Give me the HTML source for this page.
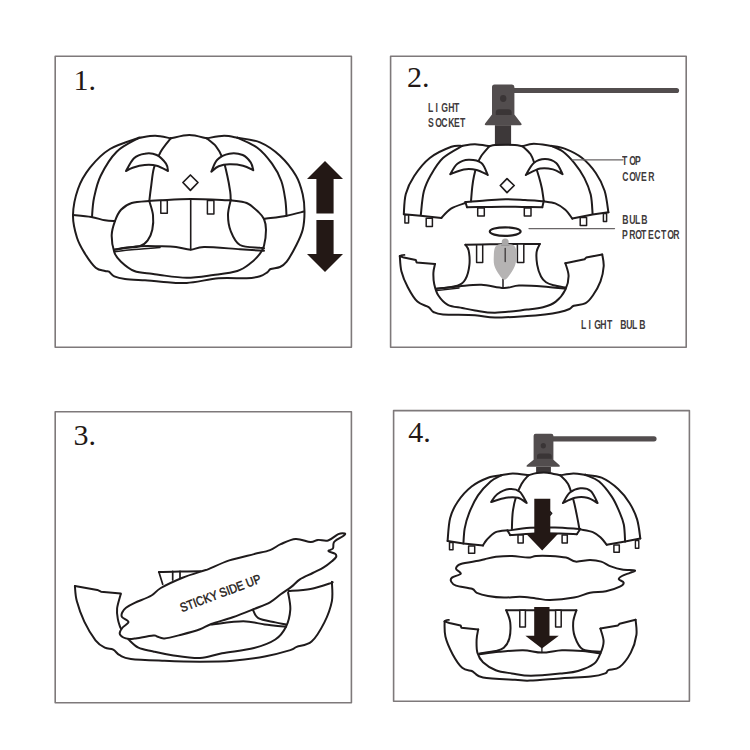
<!DOCTYPE html>
<html><head><meta charset="utf-8"><style>
html,body{margin:0;padding:0;background:#fff;width:750px;height:750px;overflow:hidden;position:relative}
svg{position:absolute;left:0;top:0}
.num{position:absolute;font-family:"Liberation Serif",serif;font-size:30px;color:#231815;line-height:1;white-space:nowrap}
.lbl2{position:absolute;font-family:"Liberation Sans",sans-serif;line-height:1;white-space:nowrap;-webkit-text-stroke:0px}
.sticky{position:absolute;font-family:"Liberation Sans",sans-serif;font-size:12.6px;color:#231815;line-height:1;white-space:nowrap;transform-origin:0 100%;transform:rotate(-20.5deg) scaleX(.86);font-weight:normal;-webkit-text-stroke:0.45px #231815}
.lbl{position:absolute;font-family:"Liberation Sans",sans-serif;font-size:12px;color:#3a3536;line-height:1;white-space:nowrap;transform-origin:0 0}
</style></head><body>
<svg width="750" height="750" viewBox="0 0 750 750" stroke-linejoin="round" stroke-linecap="round">
<rect x="55.2" y="56.2" width="296.2" height="291" fill="none" stroke="#7e797a" stroke-width="1.6"/>
<rect x="390.6" y="56.2" width="295.6" height="291" fill="none" stroke="#7e797a" stroke-width="1.6"/>
<rect x="55.2" y="411.8" width="296.2" height="291" fill="none" stroke="#7e797a" stroke-width="1.6"/>
<rect x="393.6" y="410.6" width="295.8" height="290.6" fill="none" stroke="#7e797a" stroke-width="1.6"/>
<path d="M325 161L343 179L333.6 179L333.6 213.6L316.4 213.6L316.4 179L307 179Z" fill="#231815"/>
<path d="M316.4 220L333.6 220L333.6 254L343 254L325 272L307 254L316.4 254Z" fill="#231815"/>
<path d="M139.3 137.7C134.4 139.6 118.2 144 110 149C101.8 154 95.3 161 90 167.7C84.7 174.4 80.8 181.1 78 189C75.2 196.9 73.2 206.9 73 215C72.8 223.1 75 231.2 77 237.7C79 244.1 81.9 248.7 85 253.7C88.1 258.7 92.4 264.8 95.7 267.7C99 270.6 102.8 270.3 105 271C107.2 271.7 107.5 270.8 109 271.7C110.5 272.6 111.6 275.1 114.3 276.3C117 277.5 119.9 278.3 125 279C130.1 279.7 139 279.9 145 280.3C151 280.8 154.1 281.2 161 281.7C167.9 282.1 177.1 283.6 186.7 283C196.3 282.4 208.7 279.1 218.7 278.3C228.7 277.5 239.8 278.6 246.7 278.3C253.6 278 256.6 277.3 260 276.3C263.4 275.3 265.5 273.5 267.3 272.3C269.1 271.1 268.6 269.9 270.7 269C272.8 268.1 277.3 268.2 280 267C282.7 265.8 284 265.2 286.7 261.7C289.4 258.1 293.3 251 296 245.7C298.7 240.4 301.3 235.4 302.7 229.7C304.1 224 304.5 217.6 304.5 211.7C304.5 205.8 304.1 200.3 302.7 194.3C301.3 188.3 299.8 182.1 296 175.7C292.2 169.3 286 161.3 280 155.7C274 150.1 267.1 145.3 260 142.3C252.9 139.3 241.1 138.5 237.3 137.7" fill="none" stroke="#1f1b1c" stroke-width="2.0"/>
<path d="M139.3 137.7C142 137.4 150.1 135.6 155.3 135.7C160.5 135.8 168.1 137.9 170.7 138.3" fill="none" stroke="#1f1b1c" stroke-width="2.0"/>
<path d="M170.7 138.3C173.8 137.8 183.3 135 189.3 135C195.3 135 203.8 137.8 206.7 138.3" fill="none" stroke="#1f1b1c" stroke-width="2.0"/>
<path d="M206.7 138.3C209.6 137.9 218.9 135.8 224 135.7C229.1 135.6 235.1 137.4 237.3 137.7" fill="none" stroke="#1f1b1c" stroke-width="2.0"/>
<path d="M139.3 137.7C135.5 140 123.1 145.4 116.7 151.7C110.3 158 104.5 168 100.7 175.7C96.9 183.4 95.5 191.1 94 198C92.5 204.9 92.3 213.8 92 217" fill="none" stroke="#1f1b1c" stroke-width="2.0"/>
<path d="M170.7 138.3C169 140.5 163.5 146.8 160.7 151.7C157.9 156.6 155.6 162.1 154 167.7C152.4 173.2 152.1 179.4 151.3 185C150.5 190.6 149.6 198.3 149.3 201" fill="none" stroke="#1f1b1c" stroke-width="2.0"/>
<path d="M206.7 138.3C208.2 139.6 213.3 143 216 146.3C218.7 149.6 220.8 153.4 222.7 158.3C224.6 163.2 226.1 170.1 227.3 175.7C228.6 181.3 229.6 187.6 230.2 191.7C230.8 195.8 230.6 198.9 230.7 200.3" fill="none" stroke="#1f1b1c" stroke-width="2.0"/>
<path d="M237.3 137.7C240.6 139.4 251.5 143.4 257.3 147.7C263.1 152 268 158.1 272 163.7C276 169.2 279.1 175 281.3 181C283.5 187 284.4 193.9 285.3 199.7C286.2 205.5 286.3 213 286.5 215.7" fill="none" stroke="#1f1b1c" stroke-width="2.0"/>
<path d="M73 215C76 215.3 86 216.1 91.3 217C96.6 217.9 101 219.6 105 220.3C109 221 113.3 220.9 115 221" fill="none" stroke="#1f1b1c" stroke-width="2.0"/>
<path d="M264 219C267.8 218.4 280 216.9 286.7 215.7C293.4 214.4 301.1 212.2 304 211.5" fill="none" stroke="#1f1b1c" stroke-width="2.0"/>
<path d="M149.3 201C151.1 200.9 153.1 200.6 160 200.3C166.9 200 178.9 199 190.7 199C202.5 199 224 200.1 230.7 200.3" fill="none" stroke="#1f1b1c" stroke-width="2.0"/>
<path d="M149.3 201C146.4 201.3 136.4 201.6 131.7 203C127 204.4 123.8 206.7 121 209.7C118.2 212.7 116.5 216.8 115 221C113.5 225.2 111.8 229.8 111.7 235C111.6 240.2 112.8 247.9 114.3 252.3C115.8 256.8 117.7 258.6 121 261.7C124.3 264.8 129.2 269 134.3 271C139.4 273 147.4 273 151.7 273.7C156 274.4 154.2 274.3 160 275C165.8 275.7 177.8 277.7 186.7 277.7C195.6 277.7 204.9 276.1 213.3 275C221.7 273.9 231.1 273 237.3 271C243.5 269 246.9 265.9 250.7 263C254.5 260.1 257.8 256.6 260 253.7C262.2 250.8 263 249.7 264 245.7C265 241.7 266 234.1 266 229.7C266 225.2 265.2 221.9 264 219C262.8 216.1 261.6 215 258.7 212.3C255.8 209.6 251.4 205 246.7 203C242 201 233.4 200.8 230.7 200.3" fill="none" stroke="#1f1b1c" stroke-width="2.0"/>
<path d="M149.3 201C149.9 203.3 152.5 210.2 153 215C153.5 219.8 153.2 225.5 152.3 229.7C151.4 233.9 149.8 237.5 147.7 240.3C145.6 243.1 143.5 245.1 139.7 246.3C135.9 247.5 129.2 247.1 125 247.7C120.8 248.3 116.1 249.4 114.3 249.7" fill="none" stroke="#1f1b1c" stroke-width="2.0"/>
<path d="M230.7 200.3C230.2 202.8 228 209.9 228 215C228 220.1 228.7 226 230.7 231C232.7 236 235.1 242.2 240 245C244.9 247.8 256 247.1 260 247.7C264 248.2 263.3 248.2 264 248.3" fill="none" stroke="#1f1b1c" stroke-width="2.0"/>
<path d="M114.3 249.7C118.5 249.1 132.1 246.9 139.7 246.3C147.3 245.7 153.9 246.2 160 246.3C166.1 246.4 170.9 246.4 176 247C181.1 247.6 186 249.7 190.7 249.7C195.4 249.7 195.8 247.1 204 247C212.2 246.9 230 248.6 240 249.2C250 249.8 260 250.5 264 250.8" fill="none" stroke="#1f1b1c" stroke-width="2.0"/>
<path d="M115 251.7C117.8 251.4 124.2 250.4 131.7 249.7C139.2 249 155.3 247.9 160 247.5" fill="none" stroke="#1f1b1c" stroke-width="1.5"/>
<path d="M190.7 199L190.7 249.7" fill="none" stroke="#1f1b1c" stroke-width="1.6"/>
<rect x="160.8" y="200.5" width="6.5" height="12.7" fill="#fff" stroke="#1f1b1c" stroke-width="1.5"/>
<rect x="207.4" y="200.5" width="6.5" height="13.5" fill="#fff" stroke="#1f1b1c" stroke-width="1.5"/>
<path d="M190.4 175L198 182.5L190.4 190.3L182.9 182.5Z" fill="none" stroke="#1f1b1c" stroke-width="1.7"/>
<path d="M126 171C127.3 168.9 130.9 161.2 134 158.3C137.1 155.4 140.9 154.2 144.7 153.7C148.5 153.1 153.1 153.3 156.7 155C160.2 156.7 164.1 161 166 163.7C167.9 166.4 167.7 169.8 168 171C166.1 170.1 160.6 166.7 156.7 165.7C152.8 164.7 148.7 164.7 144.7 165C140.7 165.3 135.8 166.7 132.7 167.7C129.6 168.7 127.1 170.4 126 171Z" fill="#fff" stroke="#1f1b1c" stroke-width="2.0"/>
<path d="M211.3 171.7C212.3 169.7 214.3 162.7 217.3 159.7C220.3 156.7 225.1 154.5 229.3 153.7C233.5 152.9 239.1 153.6 242.7 155C246.3 156.4 248.9 159.8 250.7 162.3C252.5 164.9 252.9 169 253.3 170.3C251.6 169.5 247 166.7 243 165.7C239 164.7 233.4 164.2 229.3 164.3C225.2 164.4 221.7 165.1 218.7 166.3C215.7 167.5 212.5 170.8 211.3 171.7Z" fill="#fff" stroke="#1f1b1c" stroke-width="2.0"/>
<path d="M512 87.9H676.5a2.6 2.6 0 0 1 0 5.2H512Z" fill="#524d4e"/>
<path d="M492 87Q492 84.5 494.5 84.5H512Q514.4 84.5 514.4 87V114.4L521.3 123.4Q522.3 125.2 520.3 125.2H486.1Q484.1 125.2 485.1 123.4L492 114.4Z" fill="#524d4e"/>
<ellipse cx="503.2" cy="98.5" rx="3.2" ry="3.4" fill="#3a3536"/>
<path d="M495.8 114.9V112.3Q495.8 109.3 499 109.3H508.4Q511.6 109.3 511.6 112.3V114.9Z" fill="#3a3536"/>
<rect x="494.9" y="125.2" width="16.2" height="20" fill="#3d3839"/>
<path d="M462.2 145.9C460.4 146.1 456.8 144.8 451.4 146.8C446 148.8 436 153.1 429.8 158C423.6 162.9 418.2 170 414.2 176C410.2 182 407.5 187.6 405.8 194C404.1 200.4 404.1 210.8 403.8 214.2" fill="none" stroke="#1f1b1c" stroke-width="2.0"/>
<path d="M403.8 214.2L420.6 215.8L441.4 217.9" fill="none" stroke="#1f1b1c" stroke-width="2.0"/>
<path d="M441.4 217.9C443 216.3 447 211.1 451 208.6C455 206.1 463 203.9 465.4 203" fill="none" stroke="#1f1b1c" stroke-width="2.0"/>
<path d="M462.2 145.9C459 147.9 448.2 153.2 443 158C437.8 162.8 434.2 169.2 431 174.8C427.8 180.4 425.5 184.9 423.8 191.6C422.1 198.3 421.3 211.1 420.8 215" fill="none" stroke="#1f1b1c" stroke-width="2.0"/>
<path d="M462.2 145.9C464.3 145.6 470.5 144.2 475 144.3C479.5 144.4 487 145.9 489.4 146.2" fill="none" stroke="#1f1b1c" stroke-width="2.0"/>
<path d="M489.4 146.2C490.3 146 492.3 145.2 495 145C497.7 144.8 502.4 144.7 505.7 144.7C509 144.7 512.2 144.8 515 145C517.8 145.2 521.3 146 522.6 146.2" fill="none" stroke="#1f1b1c" stroke-width="2.0"/>
<path d="M489.4 146.2C488.1 147.8 483.5 152.7 481.4 155.8C479.3 158.9 478.2 161.6 477 165C475.8 168.4 474.8 172.4 474 176C473.2 179.6 472.8 182.5 472.3 186.7C471.8 190.9 471.2 198.9 471 201.3" fill="none" stroke="#1f1b1c" stroke-width="2.0"/>
<path d="M522.6 146.2C523.9 147.5 528.5 151.1 530.6 154.2C532.7 157.3 533.6 161.2 535 165C536.4 168.8 537.9 173.2 539 177C540.1 180.8 541 184.1 541.8 188C542.6 191.9 543.4 198.5 543.7 200.6" fill="none" stroke="#1f1b1c" stroke-width="2.0"/>
<path d="M522.6 146.2C524.5 145.8 529 143.9 533.8 143.8C538.6 143.8 548.5 145.6 551.4 145.9" fill="none" stroke="#1f1b1c" stroke-width="2.0"/>
<path d="M551.4 145.9C553.3 146.8 559 148.7 562.8 151.5C566.6 154.3 570.6 158.5 574.2 162.9C577.8 167.3 581.6 172.8 584.4 178.1C587.1 183.4 589.3 188.6 590.7 194.6C592.1 200.6 592.3 210.8 592.6 214" fill="none" stroke="#1f1b1c" stroke-width="2.0"/>
<path d="M551.4 145.9C553.7 146.4 560.2 146.9 565.3 148.9C570.4 150.9 576.7 153.8 581.8 157.8C586.9 161.8 592 167.5 595.8 173C599.6 178.5 602.5 184.2 604.6 190.8C606.7 197.4 607.8 208.7 608.4 212.3" fill="none" stroke="#1f1b1c" stroke-width="2.0"/>
<path d="M608.4 212.3L592.6 214.5L572.3 218.6" fill="none" stroke="#1f1b1c" stroke-width="2.0"/>
<path d="M572.3 218.6C571.1 217.1 568.1 212.3 565.3 209.8C562.4 207.3 558.8 204.8 555.2 203.4C551.6 202 545.6 201.7 543.7 201.3" fill="none" stroke="#1f1b1c" stroke-width="2.0"/>
<path d="M465.4 202C468.7 201.8 478.3 200.9 485 200.5C491.7 200.1 499 199.4 505.7 199.3C512.4 199.2 518.7 199.7 525 200C531.3 200.3 540.6 201.1 543.7 201.3" fill="none" stroke="#1f1b1c" stroke-width="2.0"/>
<path d="M467 207.3C470 207.2 479 207.1 485 207C491 206.9 496.8 206.7 503 206.7C509.2 206.7 515.5 206.9 522 207C528.5 207.1 538.9 207.2 542.3 207.3" fill="none" stroke="#1f1b1c" stroke-width="2.0"/>
<path d="M465.4 202L467 207.3" fill="none" stroke="#1f1b1c" stroke-width="2.0"/>
<path d="M543.7 201.3L542.3 207.3" fill="none" stroke="#1f1b1c" stroke-width="2.0"/>
<rect x="404.9" y="215" width="3.7" height="8" fill="#fff" stroke="#1f1b1c" stroke-width="1.5"/>
<rect x="426.2" y="218.2" width="6.2" height="8.3" fill="#fff" stroke="#1f1b1c" stroke-width="1.5"/>
<rect x="477.7" y="208" width="6.6" height="8" fill="#fff" stroke="#1f1b1c" stroke-width="1.5"/>
<rect x="524.3" y="208" width="6.7" height="8" fill="#fff" stroke="#1f1b1c" stroke-width="1.5"/>
<rect x="580.2" y="217.4" width="6.4" height="8" fill="#fff" stroke="#1f1b1c" stroke-width="1.5"/>
<rect x="603.4" y="213.4" width="3.2" height="8" fill="#fff" stroke="#1f1b1c" stroke-width="1.5"/>
<path d="M507 178.7L514.2 185.5L507 192.6L500.3 185.5Z" fill="none" stroke="#1f1b1c" stroke-width="1.7"/>
<path d="M450.2 174.2C451.4 172.5 454.3 166.2 457.4 163.8C460.5 161.4 464.6 159.9 468.6 159.8C472.6 159.7 478.2 160.5 481.4 163C484.6 165.5 486.7 173 487.8 175C485.9 174.2 480.6 170.8 476.6 169.9C472.6 169 468.2 168.7 463.8 169.4C459.4 170.1 452.5 173.4 450.2 174.2Z" fill="#fff" stroke="#1f1b1c" stroke-width="2.0"/>
<path d="M525.8 175C527.1 173 530.6 165.7 533.8 163C537 160.3 541.3 159 545 159C548.7 159 553.3 160.5 556.2 163C559.1 165.5 561.5 172.3 562.6 174.2C561 173.4 556.7 170.3 553 169.4C549.3 168.5 544.7 167.7 540.2 168.6C535.7 169.5 528.2 173.9 525.8 175Z" fill="#fff" stroke="#1f1b1c" stroke-width="2.0"/>
<ellipse cx="505.2" cy="231.6" rx="15.4" ry="4.3" fill="none" stroke="#1f1b1c" stroke-width="2.2"/>
<path d="M399.8 256C400.1 258.5 400.1 266 401.4 271.2C402.7 276.4 405.1 282.1 407.8 287.2C410.5 292.3 413.9 298.3 417.4 301.6C420.9 304.9 425.9 305.5 428.6 307.2C431.3 308.9 431 310.8 433.4 312C435.8 313.2 436.1 313.9 443 314.4C449.9 314.9 466.3 314.7 475 315.2C483.7 315.7 486.3 317.5 495 317.6C503.7 317.7 518.7 316.5 527 316C535.3 315.5 539.7 315 545 314.4C550.3 313.8 554.8 313.1 558.9 312.2C563 311.3 567 310.1 569.5 309C572 307.9 571.1 306.8 573.8 305.8C576.5 304.8 582.4 305 585.6 303.2C588.8 301.4 590.5 298.8 593 295.2C595.5 291.6 598.7 286.1 600.5 281.3C602.3 276.5 603.4 270.8 603.7 266.3C604 261.8 602.5 256.4 602.2 254.4" fill="none" stroke="#1f1b1c" stroke-width="2.0"/>
<path d="M399.8 256L403.8 257.6L415.8 260L416.6 262.4L435 264" fill="none" stroke="#1f1b1c" stroke-width="2.0"/>
<path d="M435 264C434.7 265.5 433.5 269.5 433.4 272.8C433.3 276.1 433.4 280.3 434.2 284C435 287.7 435.9 291.7 438.2 295.2C440.5 298.7 443.8 302.7 447.8 304.8C451.8 306.9 457.7 307.1 462.2 308C466.7 308.9 469.5 309.6 475 310.4C480.5 311.2 486.3 312.9 495 312.8C503.7 312.7 519 310.5 527 309.6C535 308.7 538.2 308.5 543 307.2C547.8 305.9 552.1 304.5 555.8 301.6C559.5 298.7 563.3 293.9 565.4 289.6C567.5 285.3 568.6 280.4 568.6 276C568.6 271.6 565.9 265.3 565.4 263.2" fill="none" stroke="#1f1b1c" stroke-width="2.0"/>
<path d="M565.4 263.2L584.6 259.2L586.2 257.6L602.2 254.4" fill="none" stroke="#1f1b1c" stroke-width="2.0"/>
<path d="M465.4 244.8C469.5 244.7 481.7 244.4 490 244.3C498.3 244.2 506.7 244.1 515 244C523.3 243.9 535.7 244 539.8 244" fill="none" stroke="#1f1b1c" stroke-width="2.0"/>
<path d="M465.4 244.8C465.9 245.7 467.9 247.1 468.6 250.4C469.3 253.7 469.9 260 469.4 264.8C468.9 269.6 467.4 275.7 465.4 279.2C463.4 282.7 462.2 284 457.4 285.6C452.6 287.2 440.1 288.3 436.6 288.8" fill="none" stroke="#1f1b1c" stroke-width="2.0"/>
<path d="M539.8 244C539.3 245.3 537 248.5 536.6 252C536.2 255.5 536.5 260.7 537.2 264.8C537.9 268.9 539.5 273.6 541 276.5C542.5 279.4 543.9 280.8 546 282.3C548.1 283.8 550.2 284.4 553.5 285.3C556.8 286.2 563.9 287.2 566 287.6" fill="none" stroke="#1f1b1c" stroke-width="2.0"/>
<path d="M436.6 288.8C440.3 288.4 451.5 287.1 459 286.4C466.5 285.7 473.9 284.5 481.4 284.8C488.9 285.1 497.5 287.9 503.8 288C510.1 288.1 512.5 285.9 519 285.6C525.5 285.3 535.3 285.9 543 286.4C550.7 286.9 561.7 288.4 565.4 288.8" fill="none" stroke="#1f1b1c" stroke-width="2.0"/>
<path d="M436.6 290.6L459 288" fill="none" stroke="#1f1b1c" stroke-width="1.4"/>
<rect x="476.6" y="244.8" width="6.1" height="17.6" fill="#fff" stroke="#1f1b1c" stroke-width="1.5"/>
<rect x="517.4" y="244" width="6.4" height="18.4" fill="#fff" stroke="#1f1b1c" stroke-width="1.5"/>
<path d="M503 279L503 288" fill="none" stroke="#1f1b1c" stroke-width="1.5"/>
<circle cx="505.2" cy="242" r="3.5" fill="#aaa8a8"/>
<path d="M505.2 244C507.5 244 510.3 243.9 512 244.6C513.7 245.3 514.9 246.1 515.6 248C516.3 249.9 516.5 253.2 516.4 256C516.3 258.8 516.1 262.2 515.2 265C514.3 267.8 512.8 270.5 511 273C509.2 275.5 506.7 279.8 504.5 279.8C502.3 279.8 499.7 275.5 498 273C496.3 270.5 494.9 267.8 494.2 265C493.5 262.2 493.7 258.8 493.8 256C493.9 253.2 494 249.9 494.8 248C495.6 246.1 496.7 245.3 498.4 244.6C500.1 243.9 502.9 244 505.2 244Z" fill="#b5b3b3"/>
<path d="M505.2 248.5L505.2 261.5" fill="none" stroke="#3c3839" stroke-width="1.3"/>
<path d="M501.5 245.2L509 245.2" fill="none" stroke="#8d8b8b" stroke-width="0.9"/>
<path d="M572.2 159.8L623 159.8" fill="none" stroke="#6a6667" stroke-width="1.3"/>
<path d="M529 228.6L614.5 228.6" fill="none" stroke="#6a6667" stroke-width="1.3"/>
<path d="M399.8 256.6C400 256.4 400.4 255.5 401.2 255.2C402 254.9 403.9 254.9 404.5 254.9" fill="none" stroke="#1f1b1c" stroke-width="1.7"/>
<path d="M158.9 572.1L162.7 584.3" fill="none" stroke="#1f1b1c" stroke-width="1.7"/>
<path d="M158.9 572.1C162.4 572 173 571.6 180 571.5C187 571.4 197.2 571.3 200.7 571.3" fill="none" stroke="#1f1b1c" stroke-width="2.0"/>
<path d="M172.7 571.3L172.7 580" fill="none" stroke="#1f1b1c" stroke-width="1.7"/>
<path d="M180 571.3L180 578" fill="none" stroke="#1f1b1c" stroke-width="1.7"/>
<path d="M74.9 586.1C75.2 588.6 75.2 595.1 76.8 601C78.4 606.9 81.2 615.1 84.3 621.6C87.4 628.1 92.1 635.9 95.5 640.3C98.9 644.6 101.8 646.2 104.8 647.7C107.8 649.2 110.7 648.4 113.2 649.6C115.7 650.9 116.8 653.7 119.7 655.2C122.7 656.8 123.4 658 130.9 658.9C138.4 659.8 153 660.3 164.5 660.8C176 661.3 188.6 661.7 200 661.7C211.4 661.7 221.9 661.7 232.7 660.8C243.5 659.9 255.1 658.3 264.7 656.5C274.3 654.7 285 651.7 290.3 650.1C295.6 648.5 293.1 648.3 296.7 646.9C300.2 645.5 307 645.7 311.6 641.6C316.2 637.5 321 629.1 324.4 622.4C327.8 615.6 330.6 607.9 331.9 601.1C333.1 594.4 331.9 585.1 331.9 581.9" fill="none" stroke="#1f1b1c" stroke-width="2.0"/>
<path d="M74.9 586.1L97.3 589.9L101 591.7L120.7 593.6" fill="none" stroke="#1f1b1c" stroke-width="2.0"/>
<path d="M120.8 594C120.2 596.4 117.6 604.2 117.1 608.4C116.6 612.6 117.4 616.3 117.9 619.4C118.4 622.5 119.5 625.1 120.1 626.8C120.7 628.5 121.3 629 121.6 629.5" fill="none" stroke="#1f1b1c" stroke-width="2.0"/>
<path d="M128.5 639.5C130.2 640.9 134.3 645.7 138.4 647.7C142.5 649.7 147.7 650.2 153.3 651.5C158.9 652.8 164.2 654.1 172 655.2C179.8 656.3 191.7 658.3 200 658C208.3 657.7 213 655 222 653.3C231 651.6 245.1 650.3 254 648C262.9 645.7 270 643 275.3 639.5C280.6 636 283.5 631.7 286 626.7C288.5 621.7 289.9 615.3 290.3 609.6C290.7 603.9 288.5 595.4 288.1 592.5" fill="none" stroke="#1f1b1c" stroke-width="2.0"/>
<path d="M288.7 591.1C292.3 590.8 303.5 590.3 310.5 589C317.5 587.7 327.2 584.3 330.8 583.1C334.4 581.9 331.7 582.1 331.9 581.9" fill="none" stroke="#1f1b1c" stroke-width="2.0"/>
<path d="M252.9 609.6C253.8 611 254.6 616 258.3 618.1C262 620.2 270.7 621.3 275.3 622.4C279.9 623.5 284.2 624.1 286 624.5" fill="none" stroke="#1f1b1c" stroke-width="2.0"/>
<path d="M211.3 624.5C216.6 624 234.4 621.3 243.3 621.3C252.2 621.3 257.6 623.6 264.7 624.5C271.8 625.4 282.4 626.3 286 626.7" fill="none" stroke="#1f1b1c" stroke-width="2.0"/>
<path d="M203.3 570.8C199 572.2 189.6 574.8 182.5 577.7C175.4 580.6 166 585 160.8 588C155.6 591 155.8 593 151.5 595.5C147.2 598 138.9 600.9 134.7 602.9C130.4 604.9 128.1 606.2 126 607.8C123.9 609.4 122.9 611 122.2 612.5C121.5 614 121 615.4 122 617C123 618.6 128.4 620.2 128.5 622C128.6 623.8 124.1 625.6 122.6 627.5C121.1 629.4 119.6 631.8 119.7 633.5C119.8 635.2 121.8 636.6 123.4 637.5C125 638.4 127.4 638.8 129.3 639C131.2 639.2 130.7 639.2 134.7 638.6C138.7 638 149.6 636 153.3 635.6C157 635.2 155.2 636 157.1 636.5C159 637 160.5 638.7 164.5 638.4C168.5 638.1 175.4 636.2 181.3 634.7C187.2 633.2 195 631.1 200 629.3C205 627.5 205.9 626 211.3 624C216.8 622 225.6 619.8 232.7 617.3C239.8 614.8 247.8 611.5 254 609C260.2 606.5 265.6 604.8 270 602.3C274.4 599.8 277.1 596.9 280.7 594.3C284.2 591.7 288.1 589.4 291.3 586.9C294.5 584.4 296.3 581.7 299.9 579.4C303.5 577.1 308.8 575 312.7 573C316.6 571 320.1 569.7 323.3 567.7C326.5 565.8 329.8 563.1 331.9 561.3C334 559.5 335.6 558.2 336.1 557C336.6 555.8 336.4 554.8 335.1 553.8C333.8 552.8 328.9 552 328.5 551.1C328.1 550.2 332.1 549.7 332.9 548.5C333.7 547.3 333.1 545 333.5 543.7C333.9 542.5 333.4 542.3 335.1 541C336.8 539.7 342 537 343.6 535.7C345.2 534.5 345.6 533.8 344.7 533.5C343.8 533.2 341.1 532.9 338.3 534.1C335.5 535.3 331.5 539.5 328.1 540.5C324.7 541.5 320.9 539.6 318 539.9C315.1 540.2 314.2 542.3 310.5 542.1C306.8 541.9 300.6 538.5 295.6 538.9C290.6 539.2 285 542.3 280.7 544.2C276.4 546.1 274.4 548.5 270 550.1C265.6 551.8 260.8 552.4 254 554.1C247.2 555.8 236.9 557.9 229.3 560.4C221.7 562.9 212.8 567.4 208.5 569.1C204.2 570.8 207.6 569.4 203.3 570.8Z" fill="#fff" stroke="#1f1b1c" stroke-width="2.0"/>
<path d="M551 436.2H654a2.6 2.6 0 0 1 0 5.2H551Z" fill="#524d4e"/>
<path d="M533.6 435.8Q533.6 433.7 535.6 433.7H551.3Q553.4 433.7 553.4 435.8V459.7L559.6 465.2Q560.6 466.8 558.8 466.8H527.6Q525.8 466.8 526.8 465.2L533.6 459.7Z" fill="#524d4e"/>
<ellipse cx="543.3" cy="445.8" rx="2.6" ry="2.7" fill="#3a3536"/>
<path d="M537 458.8V456.3Q537 453.6 540 453.6H548.7Q551.7 453.6 551.7 456.3V458.8Z" fill="#3a3536"/>
<rect x="536.1" y="466.8" width="14.8" height="6" fill="#3d3839"/>
<path d="M501.5 475.2C499.3 475.6 493.1 475.8 488.1 477.7C483.1 479.6 476.7 482.5 471.6 486.5C466.5 490.5 461.3 496.4 457.7 501.7C454.1 507 451.8 511.7 450.1 518.2C448.4 524.8 448 537.2 447.6 541" fill="none" stroke="#1f1b1c" stroke-width="2.0"/>
<path d="M447.6 541L463.4 543.5L483 545.4" fill="none" stroke="#1f1b1c" stroke-width="2.0"/>
<path d="M483 545.4C483.6 544.5 484.7 541.9 486.8 539.7C488.9 537.5 492.2 533.7 495.7 532.1C499.2 530.5 505.6 530.5 507.6 530.2" fill="none" stroke="#1f1b1c" stroke-width="2.0"/>
<path d="M501.5 475.2C499.7 476.2 494.5 478.1 490.6 481.5C486.7 484.9 481.6 490.1 478 495.4C474.4 500.7 471.3 507.6 469.1 513.1C466.9 518.6 465.6 523.2 464.7 528.3C463.8 533.4 463.6 541 463.4 543.5" fill="none" stroke="#1f1b1c" stroke-width="2.0"/>
<path d="M501.5 475.2C503.4 474.9 508.3 473.5 512.8 473.5C517.3 473.5 525.8 475 528.4 475.3" fill="none" stroke="#1f1b1c" stroke-width="2.0"/>
<path d="M528.4 475.3C529.8 474.9 533.9 473.4 537 473C540.1 472.6 543.4 472.3 547.3 472.7C551.2 473.1 558.1 474.9 560.3 475.3" fill="none" stroke="#1f1b1c" stroke-width="2.0"/>
<path d="M528.4 475.3C527.2 476.7 523.6 480.3 521.5 483.9C519.4 487.5 517.5 492.4 516 497C514.5 501.6 513.5 506.4 512.8 511.7C512.1 517 512 526.1 511.9 529" fill="none" stroke="#1f1b1c" stroke-width="2.0"/>
<path d="M560.3 475.3C561.6 476.7 565.9 479.9 568.1 483.9C570.3 487.9 571.8 494.3 573.3 499.5C574.8 504.7 575.8 510.2 576.8 515.1C577.8 520 579 526.7 579.4 529" fill="none" stroke="#1f1b1c" stroke-width="2.0"/>
<path d="M560.3 475.3C562.5 475 569.1 473.6 573.3 473.5C577.4 473.4 583.2 474.6 585.2 474.8" fill="none" stroke="#1f1b1c" stroke-width="2.0"/>
<path d="M585.2 474.8C587.5 475.9 594.7 477.9 599.1 481.5C603.5 485.1 608.4 491.6 611.8 496.6C615.2 501.7 617.4 507.2 619.4 511.8C621.4 516.5 622.8 519.5 623.8 524.5C624.8 529.5 624.9 538.8 625.1 541.6" fill="none" stroke="#1f1b1c" stroke-width="2.0"/>
<path d="M585.2 474.8C587.9 475.3 596.1 475.3 601.6 477.7C607.1 480.1 613.5 484.8 618.1 489C622.8 493.2 626.3 497.9 629.5 503C632.7 508.1 635.3 513.5 637.1 519.4C638.9 525.3 639.8 535.2 640.3 538.4" fill="none" stroke="#1f1b1c" stroke-width="2.0"/>
<path d="M640.3 538.4L625.1 541.6L606.7 544.7" fill="none" stroke="#1f1b1c" stroke-width="2.0"/>
<path d="M606.7 544.7C605.7 543.5 602.7 539.3 600.4 537.2C598.1 535.1 596.1 533.4 592.8 532.1C589.4 530.8 582.4 529.9 580.3 529.4" fill="none" stroke="#1f1b1c" stroke-width="2.0"/>
<path d="M507.6 530.7C511.3 530.2 522.1 528.3 530 527.8C537.9 527.3 546.6 527.3 555 527.5C563.4 527.7 576.1 528.8 580.3 529" fill="none" stroke="#1f1b1c" stroke-width="2.0"/>
<path d="M510.2 535.1C514.3 534.8 526.7 533.8 535 533.5C543.3 533.2 553 533.4 560 533.5C567 533.6 574 534.1 576.8 534.2" fill="none" stroke="#1f1b1c" stroke-width="2.0"/>
<path d="M507.6 530.7L510.2 535.1" fill="none" stroke="#1f1b1c" stroke-width="2.0"/>
<path d="M580.3 529L576.8 534.2" fill="none" stroke="#1f1b1c" stroke-width="2.0"/>
<rect x="449.5" y="542.6" width="3.5" height="7.2" fill="#fff" stroke="#1f1b1c" stroke-width="1.5"/>
<rect x="468.6" y="546" width="6.1" height="7.3" fill="#fff" stroke="#1f1b1c" stroke-width="1.5"/>
<rect x="518" y="535" width="5.2" height="7.9" fill="#fff" stroke="#1f1b1c" stroke-width="1.5"/>
<rect x="562.1" y="535" width="5.2" height="7.9" fill="#fff" stroke="#1f1b1c" stroke-width="1.5"/>
<rect x="613.9" y="544.9" width="5.4" height="7.3" fill="#fff" stroke="#1f1b1c" stroke-width="1.5"/>
<rect x="635.4" y="540.5" width="3.4" height="7.8" fill="#fff" stroke="#1f1b1c" stroke-width="1.4"/>
<path d="M545 506.6L551.6 513.4L545 520.2L538.4 513.4Z" fill="none" stroke="#1f1b1c" stroke-width="1.6"/>
<path d="M491.1 502.1C492.1 500.8 494.2 496.5 497.2 494.3C500.2 492.1 505.6 489.5 509.3 489.1C513.1 488.7 516.8 489.4 519.7 491.7C522.6 494 525.5 501.1 526.7 503C525.2 502.1 521.5 498.7 518 497.8C514.5 496.9 510.4 497.1 505.9 497.8C501.4 498.5 493.6 501.4 491.1 502.1Z" fill="#fff" stroke="#1f1b1c" stroke-width="2.0"/>
<path d="M562.9 503C564.1 501.3 567 495.1 569.9 492.6C572.8 490.2 576.8 488.6 580.3 488.3C583.8 488 587.8 488.4 590.7 490.9C593.6 493.3 596.5 501 597.6 503C595.9 502.1 591 498.7 587.2 497.8C583.5 496.9 579.2 496.9 575.1 497.8C571 498.7 564.9 502.1 562.9 503Z" fill="#fff" stroke="#1f1b1c" stroke-width="2.0"/>
<path d="M534.3 498.7L550.3 498.7L550.3 533.3L558.6 533.3L542.2 550.6L525.6 533.3L534.3 533.3Z" fill="#231815"/>
<path d="M484.8 559.2C487.7 558.5 491.5 557.3 496 556.8C500.5 556.3 506.7 555.9 512 556C517.3 556.1 524 557.6 528 557.6C532 557.6 532.3 556.3 536 556C539.7 555.7 545 555.7 550 556C555 556.3 561.7 556.7 566 557.6C570.3 558.5 571.6 561.2 575.6 561.6C579.6 562 585.7 560 590 560C594.3 560 597.7 560.5 601.2 561.6C604.7 562.7 607.3 565.1 610.8 566.4C614.3 567.7 618 568.9 622 569.6C626 570.3 633.5 569.9 634.8 570.4C636.1 570.9 632.1 571.9 630 572.8C627.9 573.7 623.9 574.9 622 576C620.1 577.1 618.5 578.1 618.8 579.2C619.1 580.3 623.3 581.2 623.6 582.4C623.9 583.6 623.3 584.9 620.4 586.4C617.5 587.9 611.1 590.1 606 591.2C600.9 592.3 595.3 591.7 590 592.8C584.7 593.9 580.7 596.4 574 597.6C567.3 598.8 556.3 599.9 550 600C543.7 600.1 541 598.9 536 598.4C531 597.9 525.3 596.9 520 596.8C514.7 596.7 509.3 597.7 504 597.6C498.7 597.5 492.5 596.8 488 596C483.5 595.2 479.5 594 476.8 592.8C474.1 591.6 475.5 590 472 588.8C468.5 587.6 459.5 586.8 456 585.6C452.5 584.4 451.9 582.9 451.2 581.6C450.5 580.3 450.4 578.9 452 577.6C453.6 576.3 460.1 575.1 460.8 573.6C461.5 572.1 456 570.4 456 568.8C456 567.2 457.1 565.3 460.8 564C464.5 562.7 474.4 561.6 478.4 560.8C482.4 560 481.9 559.9 484.8 559.2Z" fill="#fff" stroke="#1f1b1c" stroke-width="2.0"/>
<path d="M444.6 621.4C444.7 623.9 444.1 631.1 445.4 636.6C446.7 642.1 449.8 649 452.6 654.2C455.4 659.4 459 665 462.2 667.8C465.4 670.6 469.7 670.1 471.8 671C473.9 671.9 473.1 672.3 475 673.4C476.9 674.5 476.3 676.3 483 677.4C489.7 678.5 507.2 679.3 515 679.8C522.8 680.3 522.2 680.9 530 680.6C537.8 680.3 551.9 678.9 562 678.2C572.1 677.5 583.6 677.4 590.8 676.6C598 675.8 602.3 674.5 605.2 673.4C608.1 672.3 606 671.3 608.4 670.2C610.8 669.1 615.9 669.9 619.6 667C623.3 664.1 628 657.9 630.8 652.6C633.6 647.3 635.6 640.5 636.4 635C637.2 629.5 635.7 622.3 635.6 619.8" fill="none" stroke="#1f1b1c" stroke-width="2.0"/>
<path d="M444.6 621.4L449.4 623L460.6 625.4L461.4 627.8L478.2 629.4" fill="none" stroke="#1f1b1c" stroke-width="2.0"/>
<path d="M478.2 629.4C477.9 631.1 476.7 635.9 476.6 639.8C476.5 643.7 476.3 648.9 477.4 652.6C478.5 656.3 479.9 659.3 483 662.2C486.1 665.1 491 668.3 495.8 670.2C500.6 672.1 505.9 672.5 511.8 673.4C517.7 674.3 522.6 675.8 531 675.8C539.4 675.8 554.2 674.2 562 673.4C569.8 672.6 572.7 672.6 578 671C583.3 669.4 590.3 666.7 594 663.8C597.7 660.9 598.8 657.1 600.4 653.4C602 649.7 603.6 645.5 603.6 641.4C603.6 637.3 600.9 630.7 600.4 628.6" fill="none" stroke="#1f1b1c" stroke-width="2.0"/>
<path d="M600.4 628.6L618 625.4L619.6 623.8L635.6 619.8" fill="none" stroke="#1f1b1c" stroke-width="2.0"/>
<path d="M506.2 610.2C510.2 610.2 521.9 610.2 530 610.2C538.1 610.2 547.3 610.2 555 610.2C562.7 610.2 572.8 610.2 576.4 610.2" fill="none" stroke="#1f1b1c" stroke-width="2.0"/>
<path d="M506.2 610.2C506.9 612.2 509.7 617.5 510.2 622.2C510.7 626.9 510.5 633.9 509.4 638.2C508.3 642.5 506.1 645.7 503.8 647.8C501.5 649.9 499.8 650.1 495.8 651C491.8 651.9 482.5 653 479.8 653.4" fill="none" stroke="#1f1b1c" stroke-width="2.0"/>
<path d="M576.4 610.2C575.9 612.2 573.5 617.8 573.2 622.2C572.9 626.6 573.2 632.1 574.8 636.6C576.4 641.1 578.5 646.9 582.8 649.4C587.1 651.9 597.5 651.4 600.4 651.8" fill="none" stroke="#1f1b1c" stroke-width="2.0"/>
<path d="M479.8 654.2C483 653.8 491.8 652.5 499 651.8C506.2 651.1 515.9 650.1 523 650.2C530.1 650.3 535.4 652.6 541.9 652.6C548.4 652.6 555.2 650.5 562 650.2C568.8 649.9 576.4 650.5 582.8 651C589.2 651.5 597.5 653 600.4 653.4" fill="none" stroke="#1f1b1c" stroke-width="2.0"/>
<rect x="519.8" y="610.2" width="5.6" height="16.8" fill="#fff" stroke="#1f1b1c" stroke-width="1.5"/>
<rect x="555.6" y="610.2" width="5.6" height="16.8" fill="#fff" stroke="#1f1b1c" stroke-width="1.5"/>
<path d="M534.2 607L549.5 607L549.5 635.8L558.8 635.8L541.9 648.6L525.4 635.8L534.2 635.8Z" fill="#231815"/>
<path d="M541.9 648L541.9 652.6" fill="none" stroke="#1f1b1c" stroke-width="1.3"/>
<path d="M444.6 621.6C444.8 621.4 445.3 620.5 446 620.2C446.7 619.9 448.5 620 449 619.9" fill="none" stroke="#1f1b1c" stroke-width="1.7"/>
</svg>
<div class="num" style="left:73.5px;top:65px">1.</div><div class="num" style="left:407px;top:62px">2.</div><div class="lbl2" style="left:427.4px;top:101.5px;font-size:12px;font-weight:bold;color:#3f3b3c"><span style="display:inline-block;width:6.4px;text-align:center"><span style="display:inline-block;transform:scaleX(0.72)">L</span></span><span style="display:inline-block;width:6.4px;text-align:center"><span style="display:inline-block;transform:scaleX(0.72)">I</span></span><span style="display:inline-block;width:6.4px;text-align:center"><span style="display:inline-block;transform:scaleX(0.72)">G</span></span><span style="display:inline-block;width:6.4px;text-align:center"><span style="display:inline-block;transform:scaleX(0.72)">H</span></span><span style="display:inline-block;width:6.4px;text-align:center"><span style="display:inline-block;transform:scaleX(0.72)">T</span></span></div><div class="lbl2" style="left:427.4px;top:116.7px;font-size:12px;font-weight:bold;color:#3f3b3c"><span style="display:inline-block;width:6.4px;text-align:center"><span style="display:inline-block;transform:scaleX(0.72)">S</span></span><span style="display:inline-block;width:6.4px;text-align:center"><span style="display:inline-block;transform:scaleX(0.72)">O</span></span><span style="display:inline-block;width:6.4px;text-align:center"><span style="display:inline-block;transform:scaleX(0.72)">C</span></span><span style="display:inline-block;width:6.4px;text-align:center"><span style="display:inline-block;transform:scaleX(0.72)">K</span></span><span style="display:inline-block;width:6.4px;text-align:center"><span style="display:inline-block;transform:scaleX(0.72)">E</span></span><span style="display:inline-block;width:6.4px;text-align:center"><span style="display:inline-block;transform:scaleX(0.72)">T</span></span></div><div class="lbl2" style="left:621.3px;top:154.5px;font-size:12px;font-weight:bold;color:#3f3b3c"><span style="display:inline-block;width:6.4px;text-align:center"><span style="display:inline-block;transform:scaleX(0.72)">T</span></span><span style="display:inline-block;width:6.4px;text-align:center"><span style="display:inline-block;transform:scaleX(0.72)">O</span></span><span style="display:inline-block;width:6.4px;text-align:center"><span style="display:inline-block;transform:scaleX(0.72)">P</span></span></div><div class="lbl2" style="left:621.3px;top:170.5px;font-size:12px;font-weight:bold;color:#3f3b3c"><span style="display:inline-block;width:6.4px;text-align:center"><span style="display:inline-block;transform:scaleX(0.72)">C</span></span><span style="display:inline-block;width:6.4px;text-align:center"><span style="display:inline-block;transform:scaleX(0.72)">O</span></span><span style="display:inline-block;width:6.4px;text-align:center"><span style="display:inline-block;transform:scaleX(0.72)">V</span></span><span style="display:inline-block;width:6.4px;text-align:center"><span style="display:inline-block;transform:scaleX(0.72)">E</span></span><span style="display:inline-block;width:6.4px;text-align:center"><span style="display:inline-block;transform:scaleX(0.72)">R</span></span></div><div class="lbl2" style="left:621.3px;top:213.6px;font-size:12px;font-weight:bold;color:#3f3b3c"><span style="display:inline-block;width:6.4px;text-align:center"><span style="display:inline-block;transform:scaleX(0.72)">B</span></span><span style="display:inline-block;width:6.4px;text-align:center"><span style="display:inline-block;transform:scaleX(0.72)">U</span></span><span style="display:inline-block;width:6.4px;text-align:center"><span style="display:inline-block;transform:scaleX(0.72)">L</span></span><span style="display:inline-block;width:6.4px;text-align:center"><span style="display:inline-block;transform:scaleX(0.72)">B</span></span></div><div class="lbl2" style="left:621.3px;top:228.8px;font-size:12px;font-weight:bold;color:#3f3b3c"><span style="display:inline-block;width:6.4px;text-align:center"><span style="display:inline-block;transform:scaleX(0.72)">P</span></span><span style="display:inline-block;width:6.4px;text-align:center"><span style="display:inline-block;transform:scaleX(0.72)">R</span></span><span style="display:inline-block;width:6.4px;text-align:center"><span style="display:inline-block;transform:scaleX(0.72)">O</span></span><span style="display:inline-block;width:6.4px;text-align:center"><span style="display:inline-block;transform:scaleX(0.72)">T</span></span><span style="display:inline-block;width:6.4px;text-align:center"><span style="display:inline-block;transform:scaleX(0.72)">E</span></span><span style="display:inline-block;width:6.4px;text-align:center"><span style="display:inline-block;transform:scaleX(0.72)">C</span></span><span style="display:inline-block;width:6.4px;text-align:center"><span style="display:inline-block;transform:scaleX(0.72)">T</span></span><span style="display:inline-block;width:6.4px;text-align:center"><span style="display:inline-block;transform:scaleX(0.72)">O</span></span><span style="display:inline-block;width:6.4px;text-align:center"><span style="display:inline-block;transform:scaleX(0.72)">R</span></span></div><div class="lbl2" style="left:580.3px;top:318.6px;font-size:12px;font-weight:bold;color:#3f3b3c"><span style="display:inline-block;width:6.4px;text-align:center"><span style="display:inline-block;transform:scaleX(0.72)">L</span></span><span style="display:inline-block;width:6.4px;text-align:center"><span style="display:inline-block;transform:scaleX(0.72)">I</span></span><span style="display:inline-block;width:6.4px;text-align:center"><span style="display:inline-block;transform:scaleX(0.72)">G</span></span><span style="display:inline-block;width:6.4px;text-align:center"><span style="display:inline-block;transform:scaleX(0.72)">H</span></span><span style="display:inline-block;width:6.4px;text-align:center"><span style="display:inline-block;transform:scaleX(0.72)">T</span></span><span style="display:inline-block;width:6.4px;text-align:center"><span style="display:inline-block;transform:scaleX(0.72)">&nbsp;</span></span><span style="display:inline-block;width:6.4px;text-align:center"><span style="display:inline-block;transform:scaleX(0.72)">B</span></span><span style="display:inline-block;width:6.4px;text-align:center"><span style="display:inline-block;transform:scaleX(0.72)">U</span></span><span style="display:inline-block;width:6.4px;text-align:center"><span style="display:inline-block;transform:scaleX(0.72)">L</span></span><span style="display:inline-block;width:6.4px;text-align:center"><span style="display:inline-block;transform:scaleX(0.72)">B</span></span></div><div class="num" style="left:73.5px;top:419.5px">3.</div><div class="sticky" style="left:183px;top:602px">STICKY SIDE UP</div><div class="num" style="left:408.3px;top:417px">4.</div>
</body></html>
